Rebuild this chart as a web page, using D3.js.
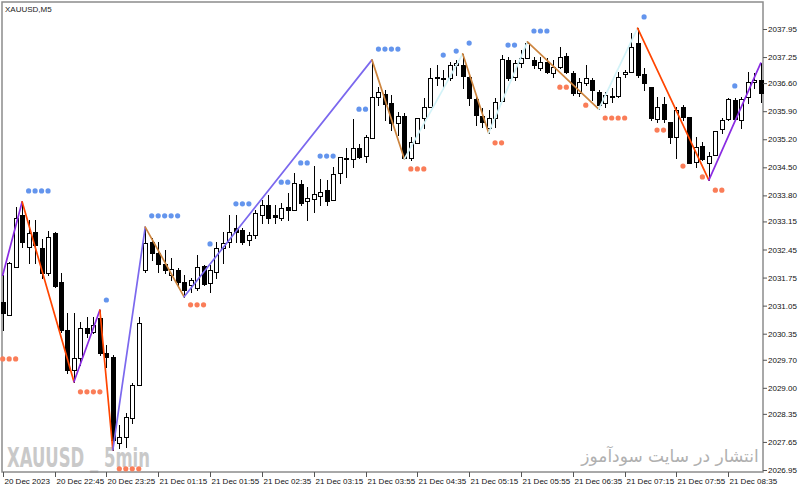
<!DOCTYPE html>
<html><head><meta charset="utf-8">
<script src="https://cdn.jsdelivr.net/npm/d3@7"></script>
<style>body{margin:0;background:#fff}svg{display:block}</style>
</head><body><svg id="c" width="800" height="490"></svg>
<script>
const opens = [2031.14,2030.82,2032.01,2033.31,2032.51,2032.89,2032.49,2031.86,2032.86,2031.64,
 2030.44,2029.45,2029.74,2030.49,2030.39,2030.74,2029.87,2029.77,2027.62,2027.77,
 2028.25,2029.07,2031.94,2032.64,2032.36,2032.09,2031.81,2031.94,2031.64,2031.57,
 2031.49,2032.04,2031.62,2031.89,2032.49,2032.64,2032.99,2032.94,2032.69,2032.81,
 2033.31,2033.56,2033.31,2033.24,2033.51,2033.44,2034.08,2033.66,2033.71,2033.79,
 2033.93,2033.69,2034.36,2034.71,2034.71,2034.98,2034.78,2035.23,2036.25,2036.33,
 2036.10,2035.60,2035.78,2034.73,2035.11,2035.73,2036.00,2036.73,2036.73,2036.73,
 2037.05,2037.05,2036.75,2036.20,2035.78,2035.48,2035.73,2036.15,2037.18,2036.75,
 2037.10,2037.23,2037.18,2036.98,2037.13,2036.85,2037.00,2037.28,2036.85,2036.35,
 2036.60,2036.68,2036.38,2036.10,2036.28,2036.28,2036.83,2036.88,2037.60,2036.83,
 2036.50,2035.70,2036.08,2035.63,2035.26,2036.00,2035.75,2034.63,2035.03,2034.61,
 2034.81,2035.46,2035.70,2036.18,2035.68,2036.25,2036.63,2036.68];
const highs = [2031.81,2032.14,2033.51,2033.64,2033.19,2033.19,2032.71,2032.91,2032.89,2031.86,
 2030.87,2030.87,2030.64,2030.77,2030.77,2030.94,2030.07,2029.82,2028.07,2028.37,
 2029.12,2030.77,2033.01,2032.74,2032.64,2032.44,2032.24,2031.99,2031.81,2031.74,
 2032.31,2032.06,2032.06,2032.64,2032.89,2033.31,2033.31,2032.99,2032.89,2033.44,
 2033.69,2033.81,2033.56,2033.61,2033.86,2034.36,2034.18,2034.01,2034.53,2034.21,
 2034.18,2034.51,2034.76,2034.98,2035.70,2035.08,2035.31,2037.18,2036.50,2036.43,
 2036.30,2035.88,2035.85,2035.26,2035.73,2036.23,2036.98,2037.05,2036.93,2037.13,
 2037.18,2037.33,2036.80,2036.30,2035.98,2035.93,2036.23,2037.30,2037.25,2037.18,
 2037.43,2037.63,2037.25,2037.25,2037.23,2037.18,2037.50,2037.35,2036.90,2036.73,
 2037.05,2036.73,2036.43,2036.38,2036.48,2036.88,2036.93,2037.85,2037.97,2036.98,
 2036.50,2036.25,2036.25,2035.63,2036.00,2036.05,2035.75,2035.26,2035.13,2034.88,
 2035.41,2035.73,2036.23,2036.23,2036.25,2036.88,2036.85,2037.10];
const lows = [2030.44,2030.82,2032.01,2032.51,2032.11,2032.11,2031.74,2031.81,2031.52,2030.39,
 2029.37,2029.15,2029.57,2030.27,2030.37,2029.82,2029.52,2027.45,2027.50,2027.52,
 2028.12,2029.07,2031.89,2032.19,2031.89,2031.86,2031.69,2031.57,2031.27,2031.39,
 2031.44,2031.57,2031.39,2031.74,2032.11,2032.51,2032.64,2032.59,2032.56,2032.74,
 2033.11,2033.11,2033.11,2033.19,2033.19,2033.44,2033.56,2033.19,2033.39,2033.56,
 2033.56,2033.69,2034.11,2034.26,2034.51,2034.73,2034.63,2035.23,2036.05,2035.68,
 2035.43,2035.31,2034.71,2034.68,2035.11,2035.48,2036.00,2036.55,2036.48,2036.68,
 2036.80,2036.48,2036.05,2035.55,2035.51,2035.36,2035.51,2036.15,2036.68,2036.68,
 2037.00,2037.23,2036.98,2036.93,2036.85,2036.75,2036.98,2036.85,2036.30,2036.28,
 2036.55,2036.18,2035.95,2036.00,2036.13,2036.25,2036.75,2036.88,2036.75,2036.43,
 2035.68,2035.63,2035.63,2035.11,2034.73,2035.68,2034.61,2034.51,2034.68,2034.18,
 2034.81,2035.36,2035.68,2035.68,2035.48,2036.10,2036.48,2036.13];
const closes = [2030.87,2032.11,2033.24,2032.64,2032.86,2032.56,2031.86,2032.76,2031.54,2030.44,
 2029.45,2029.74,2030.49,2030.37,2030.57,2029.87,2029.77,2027.70,2027.77,2028.27,
 2029.07,2030.62,2032.61,2032.36,2032.09,2031.94,2031.96,2031.64,2031.44,2031.69,
 2032.01,2031.59,2031.94,2032.49,2032.61,2032.89,2032.89,2032.64,2032.81,2033.36,
 2033.56,2033.24,2033.26,2033.49,2033.44,2034.11,2033.61,2033.74,2033.84,2033.88,
 2033.66,2034.33,2034.76,2034.73,2034.98,2034.76,2035.26,2036.25,2036.38,2036.08,
 2035.60,2035.78,2034.73,2035.13,2035.73,2036.00,2036.73,2036.75,2036.70,2037.05,
 2037.10,2036.78,2036.23,2035.80,2035.63,2035.73,2036.13,2037.20,2036.73,2037.10,
 2037.23,2037.60,2037.05,2037.13,2036.88,2037.00,2037.25,2036.88,2036.35,2036.63,
 2036.73,2036.43,2036.05,2036.30,2036.25,2036.75,2036.88,2037.50,2036.80,2036.60,
 2035.73,2036.00,2035.70,2035.26,2035.93,2035.75,2034.61,2035.01,2034.71,2034.78,
 2035.41,2035.68,2036.20,2035.70,2036.20,2036.63,2036.68,2036.35];

const zigzagIdx   = [0,3,11,15,17,22,28,57,62,71,75,81,92,98,109,117];
const zigzagPrice = [2031.81,2033.64,2029.15,2030.94,2027.45,2033.01,2031.27,2037.18,2034.71,2037.33,2035.36,2037.63,2035.95,2037.97,2034.18,2037.10];
const zigzagColors = ["#8a2be2","#ff4500","#8a2be2","#ff4500","#7b68ee","#cd853f","#7b68ee","#cd853f","#d3f3f8","#cd853f","#d3f3f8","#cd853f","#d3f3f8","#ff4500","#8a2be2"];

const upDots = [[4,2033.91],[5,2033.91],[6,2033.91],[7,2033.91],[16,2031.19],
 [23,2033.29],[24,2033.29],[25,2033.29],[26,2033.29],[27,2033.29],[32,2032.59],
 [36,2033.59],[37,2033.59],[38,2033.59],[43,2034.13],[44,2034.13],[46,2034.61],[47,2034.61],
 [49,2034.78],[50,2034.78],[51,2034.78],[55,2035.95],[56,2035.95],
 [58,2037.45],[59,2037.45],[60,2037.45],[61,2037.45],[68,2037.30],[70,2037.40],[72,2037.60],
 [78,2037.55],[79,2037.55],[82,2037.90],[83,2037.90],[84,2037.90],[99,2038.25],[113,2036.53]];
const downDots = [[0,2029.72],[1,2029.72],[2,2029.72],[12,2028.90],[13,2028.90],[14,2028.90],[15,2028.90],
 [18,2026.98],[19,2026.98],[20,2026.98],[21,2026.98],[29,2031.07],[30,2031.07],[31,2031.07],
 [63,2034.46],[64,2034.46],[65,2034.46],[76,2035.11],[77,2035.11],[86,2036.50],[87,2036.50],
 [90,2036.05],[93,2035.73],[94,2035.73],[95,2035.73],[96,2035.73],[101,2035.43],[102,2035.43],
 [105,2034.53],[108,2034.26],[110,2033.93],[111,2033.93]];

const priceTicks = [2037.95,2037.25,2036.60,2035.90,2035.20,2034.50,2033.80,2033.15,2032.45,2031.75,2031.05,2030.35,2029.70,2029.00,2028.35,2027.65,2026.95];
const timeTickIdx = [0,8,16,24,32,40,48,56,64,72,80,88,96,104,112];
const timeLabels = ["20 Dec 2023","20 Dec 22:45","20 Dec 23:25","21 Dec 01:15","21 Dec 01:55","21 Dec 02:35","21 Dec 03:15","21 Dec 03:55","21 Dec 04:35","21 Dec 05:15","21 Dec 05:55","21 Dec 06:35","21 Dec 07:15","21 Dec 07:55","21 Dec 08:35"];

const svg = d3.select("#c");
const x = d3.scaleLinear().domain([0,117]).range([2.7,760.7]);
const y = d3.scaleLinear().domain([2026.95,2037.95]).range([470,29]);
const FONT = "'Liberation Sans', Arial, sans-serif";

svg.append("rect").attr("width",800).attr("height",490).attr("fill","#fff");

// watermarks
svg.append("text").attr("x",7).attr("y",467).attr("textLength",143).attr("lengthAdjust","spacingAndGlyphs")
  .attr("font-family","'DejaVu Sans', sans-serif").attr("font-weight","bold").attr("font-size",27).attr("fill","#c9c9c9")
  .text("XAUUSD _ 5min");
svg.append("text").attr("x",670).attr("y",462).attr("text-anchor","middle")
  .attr("font-family","'DejaVu Sans', sans-serif").attr("font-size",17).attr("fill","#b0b0b0")
  .text("انتشار در سایت سودآموز");

// frame
svg.append("rect").attr("x",2).attr("y",2).attr("width",761).attr("height",470)
  .attr("fill","none").attr("stroke","#8c8c8c").attr("stroke-width",1.5);

// candles
const idx = d3.range(opens.length);
const cg = svg.append("g").attr("shape-rendering","crispEdges");
idx.forEach(i => {
  const c = Math.round(x(i));
  cg.append("line").attr("x1",c+0.5).attr("x2",c+0.5)
    .attr("y1",Math.round(y(highs[i]))).attr("y2",Math.round(y(lows[i]))+1)
    .attr("stroke","#000").attr("stroke-width",1);
  const top = Math.round(y(Math.max(opens[i],closes[i])));
  const bot = Math.round(y(Math.min(opens[i],closes[i])));
  const bull = closes[i] >= opens[i];
  cg.append("rect").attr("x",c-1.5).attr("y",top+0.5).attr("width",4).attr("height",Math.max(bot-top,0))
    .attr("fill",bull ? "#fff" : "#000").attr("stroke","#000").attr("stroke-width",1);
});

// zigzag
const zg = svg.append("g");
for (let k=0;k<zigzagIdx.length-1;k++){
  zg.append("line").attr("x1",x(zigzagIdx[k])).attr("y1",y(zigzagPrice[k]))
    .attr("x2",x(zigzagIdx[k+1])).attr("y2",y(zigzagPrice[k+1]))
    .attr("stroke",zigzagColors[k]).attr("stroke-width",1.7).attr("stroke-linecap","round");
}

// dots
svg.append("g").selectAll("circle").data(upDots).join("circle")
  .attr("cx",d=>x(d[0])).attr("cy",d=>y(d[1])).attr("r",2.6).attr("fill","#6495ed");
svg.append("g").selectAll("circle").data(downDots).join("circle")
  .attr("cx",d=>x(d[0])).attr("cy",d=>y(d[1])).attr("r",2.6).attr("fill","#fa7d58");

// title
svg.append("text").attr("x",5).attr("y",12).attr("font-family",FONT).attr("font-size",8).attr("fill","#222").text("XAUUSD,M5");

// right axis
const ya = svg.append("g").attr("transform","translate(763,0)")
  .call(d3.axisRight(y).tickValues(priceTicks).tickSize(4).tickPadding(1).tickFormat(d3.format(".2f")));
ya.select(".domain").remove();
ya.selectAll("text").attr("font-family",FONT).attr("font-size",8).attr("fill","#111");
ya.selectAll("line").attr("stroke","#555");

// bottom axis
const xa = svg.append("g");
timeTickIdx.forEach((t,k) => {
  const c = Math.round(x(t))+0.5;
  xa.append("line").attr("x1",c).attr("x2",c).attr("y1",472).attr("y2",477).attr("stroke","#555");
  xa.append("text").attr("x",c+1).attr("y",484).attr("font-family",FONT).attr("font-size",8).attr("fill","#111").text(timeLabels[k]);
});
</script></body></html>
